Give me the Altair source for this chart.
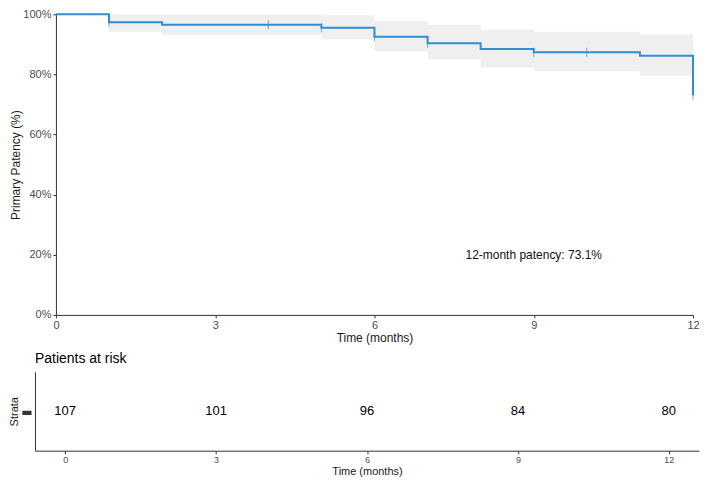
import altair as alt
import pandas as pd

# Kaplan-Meier step values
times = [0, 1, 2, 5, 6, 7, 8, 9, 11, 12]
surv = [1.0, 0.974, 0.965, 0.955, 0.925, 0.904, 0.885, 0.874, 0.862, 0.731]
upper = [1.0, 1.0, 1.0, 0.997, 0.978, 0.965, 0.949, 0.942, 0.933, 0.933]
lower = [1.0, 0.942, 0.931, 0.917, 0.877, 0.850, 0.824, 0.811, 0.796, 0.796]

# censoring marks
cens_times = [1, 4, 5, 6, 7, 9, 10, 12]
cens_surv = [0.974, 0.965, 0.955, 0.925, 0.904, 0.874, 0.874, 0.731]

# annotation
note_x = [9]
note_y = [0.2]
note_text = ["12-month patency: 73.1%"]

# risk table
risk_times = [0, 3, 6, 9, 12]
risk_n = [107, 101, 96, 84, 80]
strata = ["All"] * 5

tick_vals = [0, 3, 6, 9, 12]
y_vals = [0, 0.2, 0.4, 0.6, 0.8, 1.0]

BLUE = "#2E8FD5"
INSET = 21  # top panel starts this many px right of the risk table's left edge
TOP_W = 659

km = pd.DataFrame({"time": times, "surv": surv, "upper": upper, "lower": lower})
cens = pd.DataFrame({"time": cens_times, "surv": cens_surv})
note = pd.DataFrame({"x": note_x, "y": note_y, "label": note_text})
risk = pd.DataFrame({"time": risk_times, "n": risk_n, "strata": strata})

xscale = alt.Scale(domain=[0, 12], nice=False, zero=False, range=[INSET, TOP_W])
yscale = alt.Scale(domain=[0, 1], nice=False)

xaxis = alt.Axis(values=tick_vals, format="d", title="Time (months)", grid=False, labelFlush=False,
                 tickSize=3, labelPadding=2, titlePadding=2, labelFontSize=11,
                 titleFontSize=12, titleFontWeight="normal", labelColor="#4d4d4d",
                 titleColor="#1a1a1a", domainColor="#333333", tickColor="#333333")
yaxis = alt.Axis(values=y_vals, format=".0%", title="Primary Patency (%)", grid=False,
                 offset=-INSET, tickSize=3, labelPadding=2, titlePadding=0, labelFontSize=11,
                 titleFontSize=12, titleFontWeight="normal", labelColor="#4d4d4d",
                 titleColor="#1a1a1a", domainColor="#333333", tickColor="#333333")

band = alt.Chart(km).mark_area(interpolate="step-after", color="#efefef").encode(
    x=alt.X("time:Q", scale=xscale, axis=xaxis),
    y=alt.Y("lower:Q", scale=yscale, axis=yaxis),
    y2="upper:Q",
)
line = alt.Chart(km).mark_line(interpolate="step-after", strokeWidth=2, color=BLUE).encode(
    x="time:Q", y="surv:Q"
)
ticks = alt.Chart(cens).mark_tick(orient="vertical", size=9, thickness=1, color=BLUE).encode(
    x="time:Q", y="surv:Q"
)
txt = alt.Chart(note).mark_text(fontSize=12, color="#111111").encode(
    x="x:Q", y="y:Q", text="label:N"
)

top = alt.layer(band, line, ticks, txt).properties(width=TOP_W, height=301)

bottom = alt.Chart(risk).mark_text(fontSize=13, color="#000000").encode(
    x=alt.X("time:Q", scale=alt.Scale(domain=[-0.6, 12.6], nice=False, zero=False),
            axis=alt.Axis(values=tick_vals, format="d", title="Time (months)", grid=False,
                          labelFlush=False, tickSize=3, labelPadding=2, titlePadding=1,
                          labelFontSize=9, titleFontSize=11, titleFontWeight="normal",
                          labelColor="#4d4d4d", titleColor="#1a1a1a",
                          domainColor="#333333", tickColor="#333333")),
    y=alt.Y("strata:N", axis=alt.Axis(title="Strata", labelExpr="'▬'", ticks=False,
                                      labelPadding=3, titlePadding=1, labelFont="DejaVu Sans",
                                      labelFontSize=12, labelColor="#333333", titleFontSize=11,
                                      titleFontWeight="normal", titleColor="#1a1a1a",
                                      domainColor="#333333")),
    text="n:Q",
).properties(width=665, height=79,
             title=alt.TitleParams("Patients at risk", anchor="start", frame="group",
                                   fontSize=14, fontWeight="normal", offset=6, color="#000000"))

chart = alt.vconcat(top, bottom, spacing=6).properties(
    padding={"left": 0, "top": -1, "right": 0, "bottom": 0}
).configure(font="Liberation Sans").configure_view(stroke="transparent")

chart.save("out.html", embed_options={"renderer": "svg", "actions": False})
